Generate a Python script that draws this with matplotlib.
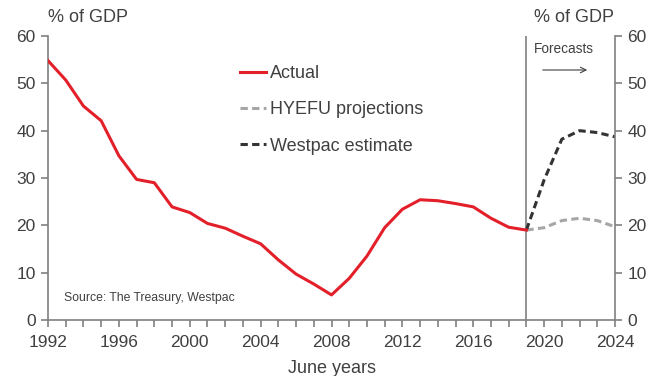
import matplotlib
matplotlib.use('Agg')
from matplotlib import pyplot as plt
from matplotlib.ticker import MultipleLocator

plt.rcParams['font.family'] = ['Liberation Sans', 'DejaVu Sans']

# data (% of GDP, June years)
years_actual = list(range(1992, 2020))
actual = [54.8, 50.7, 45.2, 42.1, 34.7, 29.7, 29.0, 23.9, 22.7, 20.4,
          19.4, 17.7, 16.1, 12.7, 9.7, 7.6, 5.3, 8.8, 13.5, 19.5,
          23.4, 25.4, 25.2, 24.6, 23.9, 21.5, 19.6, 19.0]
years_fc = [2019, 2020, 2021, 2022, 2023, 2024]
hyefu = [19.0, 19.5, 21.0, 21.5, 21.0, 19.7]
westpac = [19.0, 29.6, 38.2, 40.0, 39.6, 38.7]

txt = '#404040'
spine = '#808080'

fig = plt.figure(figsize=(6.53, 3.76), dpi=100)
ax = fig.add_axes([48/653, 1-320/376, 567/653, 284/376])

ax.plot(years_actual, actual, color='#E3202A', lw=2.2, label='Actual', zorder=3)
ax.plot(years_fc, hyefu, color='#A6A6A6', lw=2.2, ls=(0, (2.4, 1.4)), label='HYEFU projections')
ax.plot(years_fc, westpac, color='#333333', lw=2.2, ls=(0, (2.4, 1.4)), label='Westpac estimate')
ax.axvline(2019, color=spine, lw=1.2, zorder=1)

ax.set_xlim(1992, 2024)
ax.set_ylim(0, 60)
ax.xaxis.set_major_locator(MultipleLocator(4))
ax.xaxis.set_minor_locator(MultipleLocator(1))
ax.yaxis.set_major_locator(MultipleLocator(10))

ax.spines['top'].set_visible(False)
for s in ['left', 'right', 'bottom']:
    ax.spines[s].set_color(spine)
    ax.spines[s].set_linewidth(1.2)

ax.tick_params(axis='both', which='both', direction='out', color=spine, width=1.2,
               labelcolor=txt, labelsize=12.5)
ax.tick_params(axis='x', which='both', length=5, pad=6)
ax.tick_params(axis='y', length=5, right=True, labelright=True, pad=4)

ax.set_xlabel('June years', fontsize=13, color=txt, labelpad=7)

fig.text(48/653, 1-18/376, '% of GDP', fontsize=13, color=txt, va='center', ha='left')
fig.text(614/653, 1-18/376, '% of GDP', fontsize=13, color=txt, va='center', ha='right')
fig.text(534/653, 1-49/376, 'Forecasts', fontsize=9.8, color=txt, va='center', ha='left')
ax.annotate('', xy=(590/653, 1-70/376), xytext=(540/653, 1-70/376),
            xycoords='figure fraction', textcoords='figure fraction',
            arrowprops=dict(arrowstyle='->', color=txt, lw=0.8))
fig.text(64/653, 1-298/376, 'Source: The Treasury, Westpac', fontsize=8.8, color=txt,
         va='center', ha='left')

leg = ax.legend(loc='upper left', bbox_to_anchor=((240-48)/567, 1-(65-36)/284),
                frameon=False, fontsize=13, handlelength=1.45, handletextpad=0.2,
                labelspacing=1.07, borderaxespad=0, borderpad=0)
for t in leg.get_texts():
    t.set_color(txt)

plt.savefig('out.png', dpi=100)
